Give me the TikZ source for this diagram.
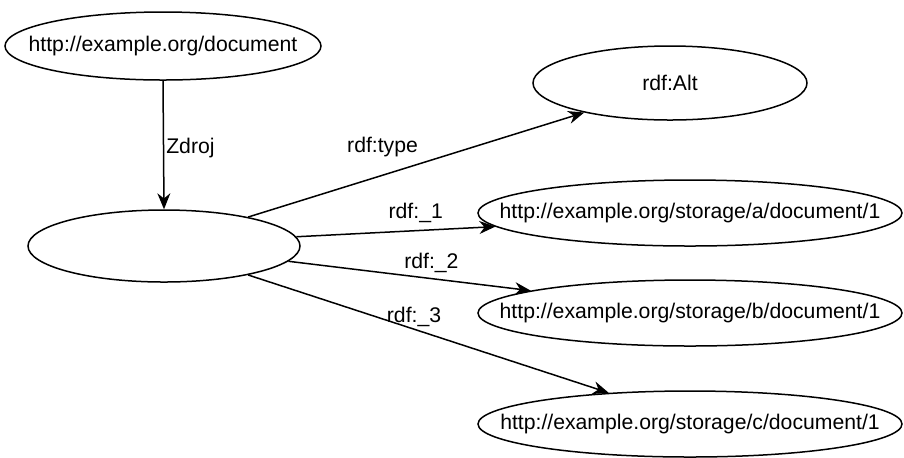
\documentclass[tikz,border=0pt]{standalone}
\usepackage{fontspec}
\setmainfont{Liberation Sans}
\usetikzlibrary{arrows.meta,shapes.geometric}

\begin{document}
\begin{tikzpicture}[x=0.5pt,y=0.5pt,
        res/.style={ellipse,draw,line width=0.75pt,inner sep=0pt,font=\fontsize{10.6}{12.7}\selectfont},
        lbl/.style={inner sep=1pt,font=\fontsize{10.6}{12.7}\selectfont},
        edge/.style={-{Stealth[length=8pt,width=6.5pt]},line width=0.75pt}]
        \useasboundingbox (0,0) rectangle (904,-457);

        \node [res,minimum width=158pt,minimum height=34pt] (0) at (163, -46) {\makebox[0pt]{http://example.org/document}};
        \node [res,minimum width=136pt,minimum height=36pt] (1) at (164, -246) {};
        \node [res,minimum width=137pt,minimum height=37pt] (2) at (670, -83) {\makebox[0pt]{rdf:Alt}};
        \node [res,minimum width=212pt,minimum height=33pt] (3) at (690, -213) {\makebox[0pt]{http://example.org/storage/a/document/1}};
        \node [res,minimum width=212pt,minimum height=33pt] (4) at (690, -313) {\makebox[0pt]{http://example.org/storage/b/document/1}};
        \node [res,minimum width=212pt,minimum height=33pt] (5) at (690, -424) {\makebox[0pt]{http://example.org/storage/c/document/1}};

        \draw[edge] (0.south) to node[lbl,pos=0.52,right=0pt] {Zdroj} (1.north);
        \draw[edge] (1.19) to node[lbl,pos=0.40,above=8pt] {rdf:type} (2.-161.8);
        \draw[edge] (1.4.3) to node[lbl,pos=0.60,above=2.5pt] {rdf:\_1} (3.-176.8);
        \draw[edge] (1.-7.7) to node[lbl,pos=0.59,above=1.5pt] {rdf:\_2} (4.172);
        \draw[edge] (1.-19.2) to node[lbl,pos=0.46,above=0pt] {rdf:\_3} (5.159.3);
        \end{tikzpicture}
\end{document}
